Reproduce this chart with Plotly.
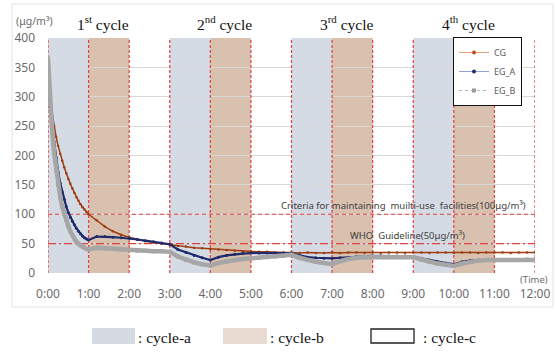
import plotly.graph_objects as go

# ---------------- data ----------------
minutes = [0, 3, 6, 9, 12, 15, 18, 21, 24, 27, 30, 33, 36, 39, 42, 45, 48, 51, 54, 57, 60,
           72, 84, 96, 108, 120, 132, 144, 156, 168, 180, 192, 204, 216, 228, 240,
           252, 264, 276, 288, 300, 312, 324, 336, 348, 360, 372, 384, 396, 408, 420,
           432, 444, 456, 468, 480, 492, 504, 516, 528, 540, 552, 564, 576, 588, 600,
           612, 624, 636, 648, 660, 672, 684, 696, 708, 720]

cg = [312, 290, 268, 250, 232, 216, 203, 191, 180, 170, 160, 152, 144, 136, 129, 123, 117, 112, 108, 104, 100,
      90, 79, 71, 65, 61, 57, 54, 52, 50, 48, 46, 45, 43, 42, 41, 40, 39, 38, 37, 37, 36, 36, 35, 35, 35,
      34, 35, 34, 34, 35, 34, 35, 35, 34, 35, 34, 35, 35, 34, 35, 35, 34, 35, 35, 34, 35, 35, 34, 35, 35,
      35, 34, 35, 35, 35]

eg_a = [318, 282, 253, 224, 196, 172, 153, 138, 125, 113, 103, 95, 88, 82, 76, 71, 67, 63, 60, 58, 56,
        62, 62, 61, 60, 59, 57, 55, 53, 51, 49, 40, 35, 30, 26, 22, 27, 30, 32, 33, 34, 34, 34, 34, 34, 34,
        30, 27, 26, 25, 25, 26, 27, 28, 28, 29, 29, 29, 29, 29, 28, 25, 22, 19, 17, 15, 19, 21, 22, 22, 23,
        23, 23, 23, 23, 23]

eg_b = [365, 290, 245, 205, 175, 150, 130, 113, 100, 90, 80, 71, 64, 58, 53, 50, 47, 45, 43, 41, 40,
        43, 42, 41, 40, 39, 38, 38, 37, 37, 36, 28, 22, 18, 15, 13, 17, 20, 22, 24, 25, 26, 27, 28, 29, 31,
        26, 22, 19, 17, 15, 20, 24, 26, 27, 27, 27, 27, 27, 27, 27, 23, 19, 16, 14, 12, 16, 19, 21, 22, 22,
        22, 22, 22, 23, 22]

series_names = ["CG", "EG_A", "EG_B"]

tick_hours = [0, 1, 2, 3, 4, 5, 6, 7, 8, 9, 10, 11, 12]
tick_labels = ["0:00", "1:00", "2:00", "3:00", "4:00", "5:00", "6:00", "7:00",
               "8:00", "9:00", "10:00", "11:00", "12:00"]

cycle_a_spans = [(0, 1), (3, 4), (6, 7), (9, 10)]
cycle_b_spans = [(1, 2), (4, 5), (7, 8), (10, 11)]
cycle_titles = ["1<sup>st</sup> cycle", "2<sup>nd</sup> cycle", "3<sup>rd</sup> cycle", "4<sup>th</sup> cycle"]
cycle_title_x = [1.35, 4.35, 7.35, 10.35]

criteria_value = 100
who_value = 50

hours = [m / 60 for m in minutes]

# ---------------- figure ----------------
W, H = 555, 357
L, R, T, B = 48, 20, 38, 84
PW, PH = W - L - R, H - T - B


def px(x):
    return (x - L) / PW


def py(y):
    return (H - B - y) / PH


fig = go.Figure()

colors = {"CG": "#9e3d12", "EG_A": "#1f2a6b", "EG_B": "#a6a6a6"}

fig.add_trace(go.Scatter(x=hours, y=cg, mode="lines+markers", showlegend=False, hoverinfo="skip",
                         line=dict(color=colors["CG"], width=1.5),
                         marker=dict(size=2.5, color=colors["CG"])))
fig.add_trace(go.Scatter(x=hours, y=eg_a, mode="lines+markers", showlegend=False, hoverinfo="skip",
                         line=dict(color=colors["EG_A"], width=2.2),
                         marker=dict(size=3, color=colors["EG_A"])))
fig.add_trace(go.Scatter(x=hours, y=eg_b, mode="lines+markers", showlegend=False, hoverinfo="skip",
                         line=dict(color=colors["EG_B"], width=4.5),
                         marker=dict(size=4, symbol="square", color=colors["EG_B"])))

# legend-only entries (thin styled lines like the reference legend)
fig.add_trace(go.Scatter(x=[None], y=[None], mode="lines+markers", name=series_names[0],
                         line=dict(color="#e6a070", width=1),
                         marker=dict(size=4, color="#c0501a")))
fig.add_trace(go.Scatter(x=[None], y=[None], mode="lines+markers", name=series_names[1],
                         line=dict(color="#8fa3d6", width=1),
                         marker=dict(size=4, color="#1f2a6b")))
fig.add_trace(go.Scatter(x=[None], y=[None], mode="lines+markers", name=series_names[2],
                         line=dict(color="#b5b5b5", width=1, dash="dot"),
                         marker=dict(size=4, symbol="square", color="#9a9a9a")))

shapes = []
for x0, x1 in cycle_a_spans:
    shapes.append(dict(type="rect", xref="x", yref="y", x0=x0, x1=x1, y0=0, y1=400,
                       fillcolor="#d5dbe4", line=dict(width=0), layer="below"))
for x0, x1 in cycle_b_spans:
    shapes.append(dict(type="rect", xref="x", yref="y", x0=x0, x1=x1, y0=0, y1=400,
                       fillcolor="#d9c1b0", line=dict(width=0), layer="below"))
for h in tick_hours:
    shapes.append(dict(type="line", xref="x", yref="y", x0=h, x1=h, y0=0, y1=400,
                       line=dict(color="#e0403f", width=1.2, dash="3px,2px"), layer="between"))
shapes.append(dict(type="line", xref="x", yref="y", x0=0, x1=12, y0=criteria_value, y1=criteria_value,
                   line=dict(color="#e0403f", width=1.2, dash="4px,3px"), layer="between"))
shapes.append(dict(type="line", xref="x", yref="y", x0=0, x1=12, y0=who_value, y1=who_value,
                   line=dict(color="#e0403f", width=1.2, dash="8px,3px,2px,3px"), layer="between"))

# outer chart frame
shapes.append(dict(type="rect", xref="paper", yref="paper", x0=px(12), x1=px(553), y0=py(307), y1=py(4),
                   line=dict(color="#e3e3e3", width=1), fillcolor="rgba(0,0,0,0)", layer="below"))

# bottom cycle legend swatches
shapes.append(dict(type="rect", xref="paper", yref="paper", x0=px(92), x1=px(135), y0=py(344), y1=py(328),
                   fillcolor="#d6dbe3", line=dict(width=0)))
shapes.append(dict(type="rect", xref="paper", yref="paper", x0=px(223), x1=px(267), y0=py(344), y1=py(328),
                   fillcolor="#e9dbd1", line=dict(width=0)))
shapes.append(dict(type="rect", xref="paper", yref="paper", x0=px(371), x1=px(414), y0=py(343), y1=py(329),
                   fillcolor="white", line=dict(color="#222222", width=1.3)))

serif = "Liberation Serif, Times New Roman, serif"
sans = "Noto Sans, Open Sans, sans-serif"

annotations = []
for txt, xc in zip(cycle_titles, cycle_title_x):
    annotations.append(dict(text=txt, x=xc, xref="x", y=py(23), yref="paper", showarrow=False,
                            xanchor="center", yanchor="middle",
                            font=dict(family=serif, size=15.5, color="#111111")))
annotations.append(dict(text="(μg/m³)", x=px(14), y=py(21), xref="paper", yref="paper",
                        showarrow=False, xanchor="left", yanchor="middle",
                        font=dict(family=sans, size=10.5, color="#6b6b6b")))
annotations.append(dict(text="(Time)", x=px(534), y=py(279), xref="paper", yref="paper",
                        showarrow=False, xanchor="center", yanchor="middle",
                        font=dict(family=sans, size=9.5, color="#6b6b6b")))
annotations.append(dict(text="Criteria for maintaining  muilti-use  facilities(100μg/m³)",
                        x=px(528), y=py(205), xref="paper", yref="paper", showarrow=False,
                        xanchor="right", yanchor="middle",
                        font=dict(family=sans, size=9.5, color="#404040")))
annotations.append(dict(text="WHO  Guideline(50μg/m³)",
                        x=px(407), y=py(235), xref="paper", yref="paper", showarrow=False,
                        xanchor="center", yanchor="middle",
                        font=dict(family=sans, size=9.5, color="#404040")))
for txt, xl in [(": cycle-a", 136), (": cycle-b", 268), (": cycle-c", 421)]:
    annotations.append(dict(text=txt, x=px(xl), y=py(337), xref="paper", yref="paper",
                            showarrow=False, xanchor="left", yanchor="middle",
                            font=dict(family=serif, size=15.5, color="#111111")))

fig.update_layout(
    width=W, height=H, autosize=False,
    margin=dict(l=L, r=R, t=T, b=B, pad=0),
    paper_bgcolor="white", plot_bgcolor="white",
    shapes=shapes, annotations=annotations,
    showlegend=True, hovermode=False,
    legend=dict(x=px(453), y=py(37), xanchor="left", yanchor="top",
                bgcolor="white", bordercolor="#111111", borderwidth=1,
                font=dict(family=sans, size=9, color="#595959"),
                itemwidth=30, tracegroupgap=0),
    xaxis=dict(range=[0, 12], tickvals=tick_hours, ticktext=tick_labels, showgrid=False,
               zeroline=False, showline=False, ticks="", automargin=False,
               ticklabelstandoff=12,
               tickfont=dict(family=sans, size=12, color="#6b6b6b")),
    yaxis=dict(range=[0, 400], dtick=50, showgrid=True, gridcolor="#d9d9d9", gridwidth=1,
               zeroline=False, showline=False, ticks="", automargin=False,
               ticklabelstandoff=12,
               tickfont=dict(family=sans, size=12, color="#6b6b6b")),
)

fig.write_html("out.html", config={"displayModeBar": False},
               post_script="document.body.style.margin='0';document.body.style.overflow='hidden';")
